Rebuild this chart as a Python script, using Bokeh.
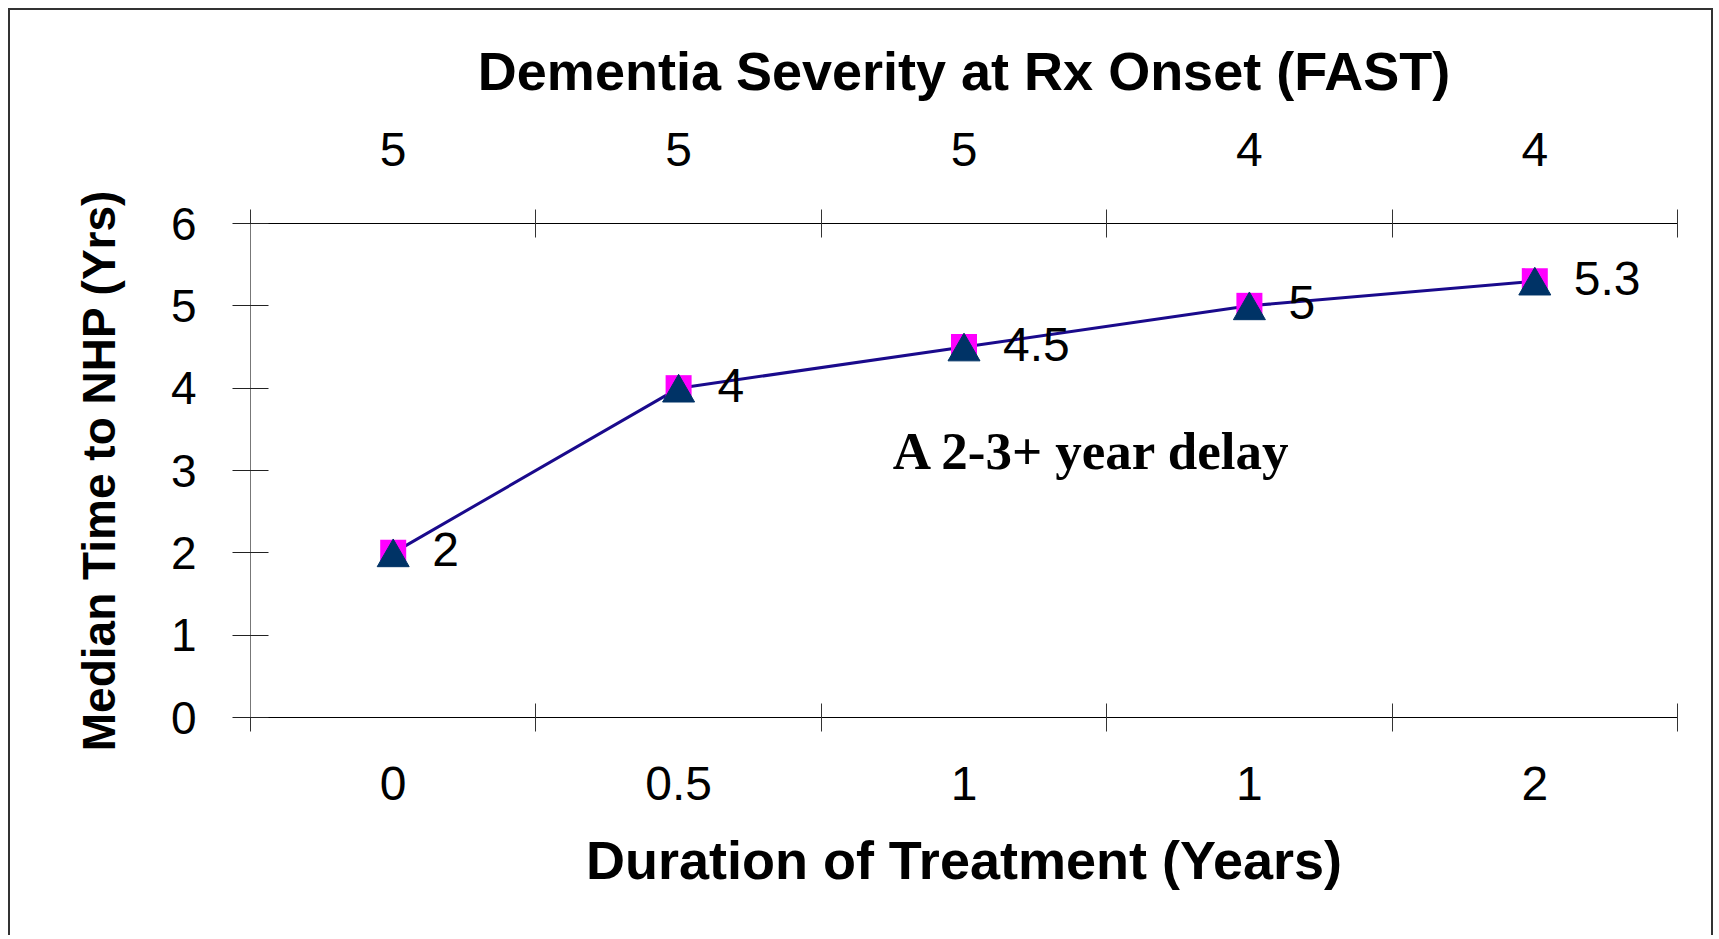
from bokeh.plotting import figure
from bokeh.models import LinearAxis, FixedTicker, Range1d, Label, ColumnDataSource
from bokeh.core.properties import value
from bokeh.transform import dodge
from bokeh.embed import file_html
from bokeh.resources import INLINE

# ---- data ----
duration_labels = ["0", "0.5", "1", "1", "2"]          # bottom axis (Duration of Treatment)
fast_labels = ["5", "5", "5", "4", "4"]                 # top axis (FAST stage)
median_years = [2, 4, 4.5, 5, 5.3]                      # Median time to NHP
value_labels = ["2", "4", "4.5", "5", "5.3"]
y_ticks = [0, 1, 2, 3, 4, 5, 6]
x_title = "Duration of Treatment (Years)"
top_title = "Dementia Severity at Rx Onset (FAST)"
y_title = "Median Time to NHP (Yrs)"
note_text = "A 2-3+ year delay"
note_x, note_y = 1.75, 3.24

positions = list(range(len(duration_labels)))
boundaries = [i - 0.5 for i in range(len(duration_labels) + 1)]

SANS = "Liberation Sans"
SERIF = "Liberation Serif"

p = figure(width=1705, height=927, output_backend="svg", toolbar_location=None,
           x_range=Range1d(-0.5, len(positions) - 0.5), y_range=Range1d(0, 6),
           x_axis_location=None, y_axis_location=None,
           min_border_left=240, min_border_right=38,
           min_border_top=213, min_border_bottom=220)
p.outline_line_color = None
p.xgrid.grid_line_color = None
p.ygrid.grid_line_color = None
p.background_fill_color = "white"
p.border_fill_color = "white"
p.styles = {"margin-left": "8px", "margin-top": "8px",
            "border-left": "2px solid #333333",
            "border-top": "2px solid #333333",
            "border-right": "2px solid #333333"}


def style_axis(ax, tick_size, title_size):
    ax.major_label_text_font = SANS
    ax.major_label_text_font_size = f"{tick_size}px"
    ax.major_label_text_color = "black"
    ax.axis_label_text_font = SANS
    ax.axis_label_text_font_style = "bold"
    ax.axis_label_text_font_size = f"{title_size}px"
    ax.axis_label_text_color = "black"


# bottom axis
bottom = LinearAxis(ticker=FixedTicker(ticks=positions, minor_ticks=boundaries),
                    major_label_overrides={i: s for i, s in zip(positions, duration_labels)},
                    axis_label=x_title)
style_axis(bottom, 48, 54)
bottom.major_tick_line_color = None
bottom.major_tick_out = 14
bottom.major_tick_in = 0
bottom.minor_tick_out = 14
bottom.minor_tick_in = 14
bottom.minor_tick_line_color = "#333333"
bottom.axis_line_color = "black"
bottom.major_label_standoff = 35
bottom.axis_label_standoff = 27
p.add_layout(bottom, "below")

# top axis
top = LinearAxis(ticker=FixedTicker(ticks=positions, minor_ticks=boundaries),
                 major_label_overrides={i: s for i, s in zip(positions, fast_labels)},
                 axis_label=top_title)
style_axis(top, 48, 54)
top.major_tick_line_color = None
top.major_tick_out = 14
top.major_tick_in = 0
top.minor_tick_out = 14
top.minor_tick_in = 14
top.minor_tick_line_color = "#333333"
top.axis_line_color = "black"
top.major_label_standoff = 44
top.axis_label_standoff = 29
p.add_layout(top, "above")

# left axis
left = LinearAxis(ticker=FixedTicker(ticks=y_ticks), axis_label=y_title)
style_axis(left, 46, 46)
left.major_tick_in = 18
left.major_tick_out = 18
left.major_tick_line_color = "#222222"
left.minor_tick_line_color = None
left.axis_line_color = "#777777"
left.major_label_standoff = 36
left.axis_label_standoff = 43
p.add_layout(left, "left")

src = ColumnDataSource(dict(x=positions, y=median_years, label=value_labels))
p.line("x", "y", source=src, line_color="#1a0a8c", line_width=3)
p.scatter("x", "y", source=src, marker="square", size=26,
          fill_color="#ff00ff", line_color=None)
p.scatter("x", dodge("y", -0.056), source=src, marker="triangle", size=32,
          fill_color="#003366", line_color="#003366")
p.text("x", "y", text="label", source=src, x_offset=39, y_offset=-3,
       text_font=value(SANS), text_font_size="48px", text_color="black",
       text_align="left", text_baseline="middle")

note = Label(x=note_x, y=note_y, text=note_text, text_font=SERIF,
             text_font_style="bold", text_font_size="53px", text_color="black",
             text_align="left", text_baseline="alphabetic")
p.add_layout(note)

open("out.html", "w").write(file_html(p, INLINE))
